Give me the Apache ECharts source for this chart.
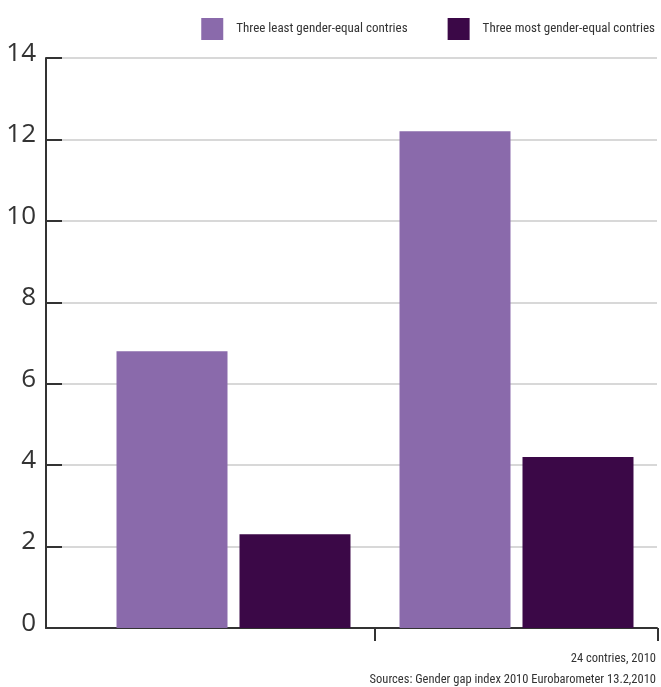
<!DOCTYPE html>
<html>
<head>
<meta charset="utf-8">
<script src="https://cdn.jsdelivr.net/npm/echarts@6/dist/echarts.min.js"></script>
<style>html,body{margin:0;padding:0;background:#fff}#chart{width:661px;height:687px}</style>
</head>
<body>
<div id="chart"></div>
<script>
const categories = ['Category 1', 'Category 2'];
const seriesNames = ['Three least gender-equal contries', 'Three most gender-equal contries'];
const leastEqual = [6.8, 12.2];
const mostEqual = [2.3, 4.2];
const yTicks = [0, 2, 4, 6, 8, 10, 12, 14];
const footnotes = ['24 contries, 2010', 'Sources: Gender gap index 2010 Eurobarometer 13.2,2010'];

const colors = ['#8a6aab', '#3b0847'];
const condensed = '"Roboto Condensed", sans-serif';
const W = 661;
const barLeft = 92, barRight = 3;
const band = (W - barLeft - barRight) / categories.length;

const chart = echarts.init(document.getElementById('chart'));
chart.setOption({
  animation: false,
  color: colors,
  grid: [
    { left: 46, right: 4, top: 58, bottom: 59 },
    { left: barLeft, right: barRight, top: 58, bottom: 59 },
    { left: barLeft + band, right: barRight, top: 58, bottom: 59 }
  ],
  legend: {
    right: 1, top: 13,
    itemWidth: 22, itemHeight: 22, itemGap: 40,
    icon: 'rect',
    textStyle: { fontFamily: condensed, fontSize: 13, color: '#333', padding: [0, 0, 0, 8] },
    data: seriesNames
  },
  title: [
    { text: footnotes[0], right: 0, top: 647, textStyle: { fontFamily: condensed, fontSize: 12.5, fontWeight: 'normal', color: '#333' } },
    { text: footnotes[1], right: 0, top: 668, textStyle: { fontFamily: condensed, fontSize: 12.5, fontWeight: 'normal', color: '#333' } }
  ],
  xAxis: [
    {
      gridIndex: 0, type: 'category', data: [''],
      axisLine: { lineStyle: { color: '#333', width: 2 } },
      axisTick: { show: false }, axisLabel: { show: false }
    },
    {
      gridIndex: 1, type: 'category', data: categories,
      axisLine: { show: false }, axisTick: { show: false }, axisLabel: { show: false }
    },
    {
      gridIndex: 2, type: 'category', data: [categories[1]],
      axisLine: { show: false },
      axisTick: { show: true, length: 13, lineStyle: { color: '#333', width: 2 } },
      axisLabel: { show: false }
    }
  ],
  yAxis: [
    {
      gridIndex: 0, type: 'value', min: yTicks[0], max: yTicks[yTicks.length - 1], interval: yTicks[1] - yTicks[0],
      axisLine: { show: true, lineStyle: { color: '#333', width: 2 } },
      axisTick: { show: true, inside: true, length: 16, lineStyle: { color: '#333', width: 2 } },
      axisLabel: { fontFamily: '"Open Sans", sans-serif', fontSize: 26, color: '#333', margin: 10, verticalAlign: 'bottom', lineHeight: 9 },
      splitLine: { show: true, lineStyle: { color: '#d8d8d8', width: 2 } }
    },
    { gridIndex: 1, type: 'value', min: yTicks[0], max: yTicks[yTicks.length - 1], show: false },
    { gridIndex: 2, type: 'value', min: yTicks[0], max: yTicks[yTicks.length - 1], show: false }
  ],
  series: [
    {
      name: seriesNames[0], type: 'bar', xAxisIndex: 1, yAxisIndex: 1,
      data: leastEqual, barWidth: 111, barGap: '10.8%'
    },
    {
      name: seriesNames[1], type: 'bar', xAxisIndex: 1, yAxisIndex: 1,
      data: mostEqual, barWidth: 111, barGap: '10.8%'
    }
  ]
});
</script>
</body>
</html>
